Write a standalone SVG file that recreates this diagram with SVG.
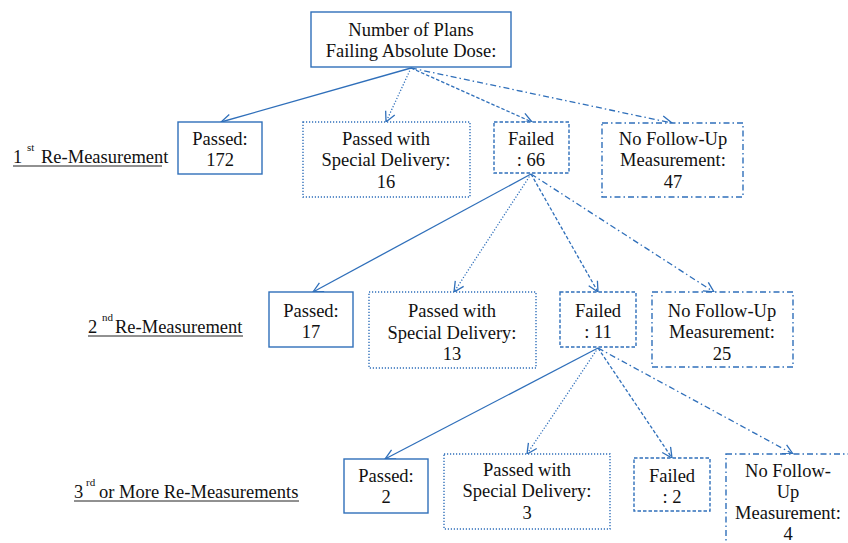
<svg xmlns="http://www.w3.org/2000/svg" width="848" height="543" viewBox="0 0 848 543" font-family="'Liberation Serif', 'DejaVu Serif', 'Times New Roman', serif">
<defs>
<marker id="ah" viewBox="0 0 12 12" refX="11" refY="6" markerWidth="12" markerHeight="12" markerUnits="userSpaceOnUse" orient="auto">
<path d="M1,1 L11,6 L1,11" fill="none" stroke="#2f6fba" stroke-width="1.3"/>
</marker>
<style>
text{font-size:18.5px;fill:#111;}
.c{text-anchor:middle;}
.box{fill:#fff;stroke:#2f6fba;stroke-width:1.4;}
.solid{stroke-dasharray:none;}
.dot{stroke-dasharray:1.2 1.8;}
.dash{stroke-dasharray:3.5 2;}
.dd{stroke-dasharray:6 3 1.5 3;}
.ln{fill:none;stroke:#2f6fba;stroke-width:1.3;marker-end:url(#ah);}
.ul{stroke:#222;stroke-width:1;}
.sup{font-size:11px;}
</style>
</defs>

<g id="connectors">
<line class="ln solid" x1="411" y1="68" x2="221" y2="122"/>
<line class="ln dot" x1="411" y1="68" x2="386" y2="122"/>
<line class="ln dash" x1="411" y1="68" x2="532" y2="122"/>
<line class="ln dd" x1="411" y1="68" x2="672" y2="123"/>

<line class="ln solid" x1="531" y1="174" x2="313" y2="292"/>
<line class="ln dot" x1="531" y1="174" x2="454" y2="292"/>
<line class="ln dash" x1="531" y1="174" x2="598" y2="292"/>
<line class="ln dd" x1="531" y1="174" x2="714" y2="292"/>

<line class="ln solid" x1="598" y1="348" x2="385" y2="459"/>
<line class="ln dot" x1="598" y1="348" x2="527" y2="454"/>
<line class="ln dash" x1="598" y1="348" x2="672" y2="458"/>
<line class="ln dd" x1="598" y1="348" x2="793" y2="454"/>
</g>

<g id="root">
<rect class="box" x="311" y="12" width="200" height="55"/>
<text class="c" x="411" y="36" font-size="18.8">Number of Plans</text>
<text class="c" x="411" y="57" font-size="18.8">Failing Absolute Dose:</text>
</g>

<g id="label1">
<text x="13" y="163" font-size="17.3">1</text>
<text class="sup" x="27" y="151">st</text>
<text x="41" y="163" font-size="17.3">Re-Measurement</text>
<line class="ul" x1="13" y1="166" x2="162" y2="166"/>
</g>
<g id="label2">
<text x="88" y="333" font-size="18.2">2</text>
<text class="sup" x="102" y="321">nd</text>
<text x="115" y="333" font-size="18.2">Re-Measurement</text>
<line class="ul" x1="88" y1="336" x2="243" y2="336"/>
</g>
<g id="label3">
<text x="74" y="498" font-size="18.5">3</text>
<text class="sup" x="86" y="486">rd</text>
<text x="99" y="498" font-size="18.5">or More Re-Measurements</text>
<line class="ul" x1="74" y1="501" x2="299" y2="501"/>
</g>

<g id="r1-passed">
<rect class="box solid" x="178" y="122" width="84" height="52"/>
<text class="c" x="220" y="145">Passed:</text>
<text class="c" x="220" y="166">172</text>
</g>
<g id="r1-special">
<rect class="box dot" x="303" y="122" width="167" height="75"/>
<text class="c" x="386" y="145">Passed with</text>
<text class="c" x="386" y="166">Special Delivery:</text>
<text class="c" x="386" y="188">16</text>
</g>
<g id="r1-failed">
<rect class="box dash" x="494" y="122" width="75" height="51"/>
<text class="c" x="531" y="145">Failed</text>
<text class="c" x="531" y="166">: 66</text>
</g>
<g id="r1-nofollow">
<rect class="box dd" x="602" y="123" width="141" height="74"/>
<text class="c" x="673" y="145">No Follow-Up</text>
<text class="c" x="673" y="166">Measurement:</text>
<text class="c" x="673" y="188">47</text>
</g>

<g id="r2-passed">
<rect class="box solid" x="269" y="292" width="84" height="55"/>
<text class="c" x="311" y="317">Passed:</text>
<text class="c" x="311" y="338">17</text>
</g>
<g id="r2-special">
<rect class="box dot" x="369" y="292" width="167" height="76"/>
<text class="c" x="452" y="317">Passed with</text>
<text class="c" x="452" y="339">Special Delivery:</text>
<text class="c" x="452" y="360">13</text>
</g>
<g id="r2-failed">
<rect class="box dash" x="560" y="292" width="76" height="55"/>
<text class="c" x="598" y="317">Failed</text>
<text class="c" x="598" y="338">: 11</text>
</g>
<g id="r2-nofollow">
<rect class="box dd" x="652" y="292" width="141" height="75"/>
<text class="c" x="722" y="317">No Follow-Up</text>
<text class="c" x="722" y="338">Measurement:</text>
<text class="c" x="722" y="360">25</text>
</g>

<g id="r3-passed">
<rect class="box solid" x="344" y="459" width="84" height="54"/>
<text class="c" x="386" y="482">Passed:</text>
<text class="c" x="386" y="503">2</text>
</g>
<g id="r3-special">
<rect class="box dot" x="444" y="454" width="166" height="75"/>
<text class="c" x="527" y="476">Passed with</text>
<text class="c" x="527" y="497">Special Delivery:</text>
<text class="c" x="527" y="519">3</text>
</g>
<g id="r3-failed">
<rect class="box dash" x="634" y="458" width="76" height="53"/>
<text class="c" x="672" y="482">Failed</text>
<text class="c" x="672" y="503">: 2</text>
</g>
<g id="r3-nofollow">
<rect class="box dd" x="726" y="454" width="130" height="100"/>
<text class="c" x="788" y="477">No Follow-</text>
<text class="c" x="788" y="498">Up</text>
<text class="c" x="788" y="519">Measurement:</text>
<text class="c" x="788" y="540">4</text>
</g>
</svg>
